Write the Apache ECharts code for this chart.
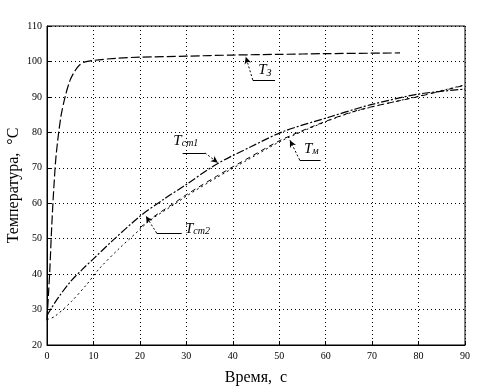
<!DOCTYPE html>
<html><head><meta charset="utf-8">
<script src="https://cdn.jsdelivr.net/npm/echarts@6/dist/echarts.min.js"></script>
<style>html,body{margin:0;padding:0;background:#fff}#c{width:483px;height:388px}</style>
</head><body><div id="c"></div>
<script>
// Data: [time, temperature]
const T3 = [[0,27],[0.3,34],[0.6,41],[1,53],[1.5,65],[2,74],[3,84.5],[4,90.5],[5,94.8],[6,97.3],[7,99],[8,99.8],[10,100.3],[15,100.9],[20,101.2],[30,101.5],[40,101.8],[50,102],[60,102.2],[76,102.4]];
const Tcm1 = [[0,28.3],[1,30.5],[2.5,33.5],[5,37.8],[7.5,41.2],[10,44.3],[14,49.3],[20,56.3],[25,61],[30,65.3],[36.5,71],[44,76],[51,80.3],[61,84.4],[67,86.8],[70,87.9],[80,90.8],[90,92.2]];
const Tcm2 = [[0,27.2],[1.6,28],[5.2,32.2],[8.5,37],[11.3,41.6],[15.6,47.3],[20,52.6],[22,55],[28,60.2],[30,62],[36.5,67.2],[43.7,72.6],[50.8,77.8],[61,83.5],[67.4,86.3],[80,90.2],[90,93.4]];
const Tm = [[20,53],[22,55.3],[28,60.6],[30,62.4],[36.5,67.6],[43.7,73],[50.8,78.1],[61,83.6],[67.4,86.4],[80,90.1],[90,93.3]];
const xTicks = {min:0, max:90, step:10};
const yTicks = {min:20, max:110, step:10};
// annotation definitions: label name, subscript, text anchor, leader start, arrow tip, underline end
const annLabels = ['T','T','T','T'];
const annSubs = ['З','ст1','м','ст2'];
const annText = [[46.9,97.6],[29.9,77.6],[56.9,75.4],[32.4,52.9]];
const annTip = [[42.8,101.3],[36.8,71.4],[52.3,77.8],[21.3,56.4]];
const annStart = [[44.3,94.8],[34,74.2],[54.4,72.2],[23.6,51.6]];
const annUnder = [[49.1,94.8],[29.2,74.2],[58.9,72.2],[29,51.6]];

const serif = 'Liberation Serif';
const leaderLines = [], underLines = [], labelPts = [];
for (let i = 0; i < annLabels.length; i++) {
  leaderLines.push([{coord: annStart[i], symbol:'none'}, {coord: annTip[i], symbol:'arrow', symbolSize:[5,7]}]);
  underLines.push([{coord: annStart[i], symbol:'none'}, {coord: annUnder[i], symbol:'none'}]);
  labelPts.push({coord: annText[i], value: i});
}
const chart = echarts.init(document.getElementById('c'));
const axisCommon = {
  axisLine:{show:true, lineStyle:{color:'#000', width:1}},
  axisTick:{show:true, inside:true, length:4, lineStyle:{color:'#000'}},
  splitLine:{show:true, lineStyle:{color:'#000', type:[1,3], width:1}},
  axisLabel:{color:'#000', fontFamily:serif, fontSize:10},
  nameTextStyle:{color:'#000', fontFamily:serif, fontSize:16},
  nameMoveOverlap:false
};
chart.setOption({
  animation:false,
  backgroundColor:'#fff',
  grid:{left:47, right:18, top:26, bottom:43, containLabel:false, outerBoundsMode:'none',
    show:true, borderColor:'#000', borderWidth:1, backgroundColor:'transparent'},
  xAxis:Object.assign({type:'value', min:xTicks.min, max:xTicks.max, interval:xTicks.step,
    name:'Время,  с', nameLocation:'middle', nameGap:25}, axisCommon,
    {axisLabel:Object.assign({}, axisCommon.axisLabel, {margin:6})}),
  yAxis:Object.assign({type:'value', min:yTicks.min, max:yTicks.max, interval:yTicks.step,
    name:'Температура,  °С', nameLocation:'middle', nameGap:25}, axisCommon,
    {axisLabel:Object.assign({}, axisCommon.axisLabel, {margin:5})}),
  series:[
    {name:'T3', type:'line', data:T3, showSymbol:false, smooth:0.3,
      lineStyle:{color:'#000', width:1.2, type:[9,3]},
      markLine:{silent:true, symbol:['none','none'], label:{show:false},
        lineStyle:{color:'#000', width:1, type:[2,2]}, data:leaderLines},
      markPoint:{silent:true, symbol:'circle', symbolSize:1, itemStyle:{color:'rgba(0,0,0,0)'},
        label:{show:true, position:'inside', formatter:p => '{t|' + annLabels[p.value] + '}{s|' + annSubs[p.value] + '}',
          rich:{t:{fontFamily:serif, fontStyle:'italic', fontSize:15, color:'#000', verticalAlign:'bottom', lineHeight:16},
                s:{fontFamily:serif, fontStyle:'italic', fontSize:10, color:'#000', verticalAlign:'bottom', lineHeight:10, padding:[6,0,0,0]}}},
        data:labelPts}},
    {name:'Tcm1', type:'line', data:Tcm1, showSymbol:false, smooth:0.3,
      lineStyle:{color:'#000', width:1.2, type:[8,2,2,2]},
      markLine:{silent:true, symbol:['none','none'], label:{show:false},
        lineStyle:{color:'#000', width:1, type:'solid'}, data:underLines}},
    {name:'Tcm2', type:'line', data:Tcm2, showSymbol:false, smooth:0.3,
      lineStyle:{color:'#000', width:1, type:[2,3]}},
    {name:'Tm', type:'line', data:Tm, showSymbol:false, smooth:0.3,
      lineStyle:{color:'#000', width:1, type:[5,4]}}
  ]
});
</script></body></html>
